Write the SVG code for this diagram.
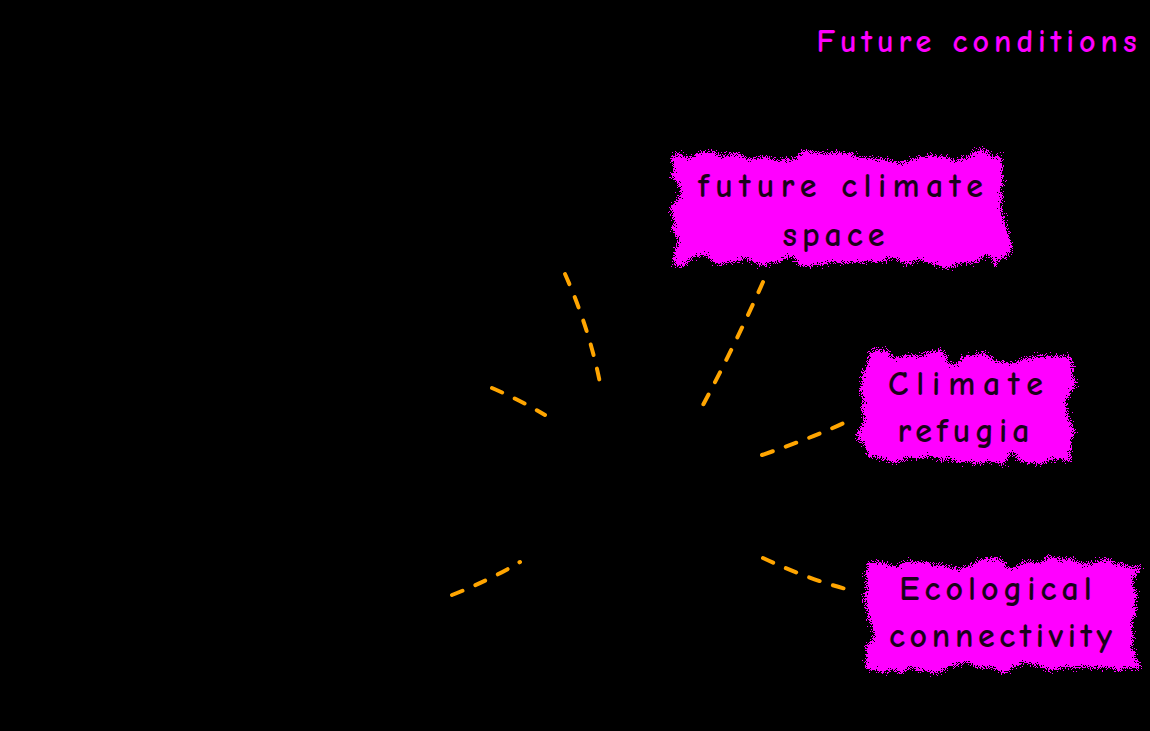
<svg xmlns="http://www.w3.org/2000/svg" width="1150" height="731" viewBox="0 0 1150 731">
<style>
.hand{font-family:"Comic Neue","DejaVu Sans","Noto Sans",sans-serif;font-size:34px;font-weight:bold;letter-spacing:5px;text-anchor:middle}
.dark{fill:#000000;font-size:31px;letter-spacing:3px}
.ink{fill:#1a001a}
.title{fill:#ff00ff;font-size:32px;letter-spacing:5px}
.box{fill:#ff00ff;filter:url(#spray)}
.conn{fill:none;stroke:#ffa500;stroke-width:4;stroke-dasharray:11 14;stroke-linecap:round}
</style>
<defs>
<filter id="spray" x="-15%" y="-30%" width="130%" height="160%">
<feTurbulence type="fractalNoise" baseFrequency="0.035" numOctaves="2" seed="7" result="w"/>
<feDisplacementMap in="SourceGraphic" in2="w" scale="26" xChannelSelector="R" yChannelSelector="G" result="wob"/>
<feTurbulence type="fractalNoise" baseFrequency="1.2" numOctaves="1" seed="2" result="n"/>
<feDisplacementMap in="wob" in2="n" scale="16" xChannelSelector="R" yChannelSelector="G"/>
</filter>
</defs>
<rect x="0" y="0" width="1150" height="731" fill="#000000"/>
<g id="title"><text class="hand title" x="979" y="52" textLength="325" lengthAdjust="spacing">Future conditions</text></g>
<g id="connectors">
<path class="conn" d="M565,274 Q590,330 601,388"/>
<path class="conn" d="M763,282 Q735,345 703,405"/>
<path class="conn" d="M492,388 Q520,400 545,415"/>
<path class="conn" d="M762,455 Q820,435 850,420"/>
<path class="conn" d="M452,595 Q490,580 520,562"/>
<path class="conn" d="M763,558 Q810,580 850,590"/>
</g>
<g id="node-range-shifting">
<text class="hand dark" x="450" y="196" textLength="215" lengthAdjust="spacing">Ongoing range</text>
<text class="hand dark" x="450" y="241" textLength="135" lengthAdjust="spacing">shifting</text>
</g>
<g id="node-habitat-types">
<text class="hand dark" x="218" y="381" textLength="355" lengthAdjust="spacing">Diverse habitat types</text>
<text class="hand dark" x="219" y="426" textLength="428" lengthAdjust="spacing">and ecological processes</text>
</g>
<g id="node-biodiversity">
<text class="hand dark" x="176" y="587" textLength="290" lengthAdjust="spacing">Current patterns</text>
<text class="hand dark" x="218" y="633" textLength="322" lengthAdjust="spacing">of biodiversity</text>
</g>
<g id="node-future-climate-space">
<rect class="box" x="674" y="156" width="328" height="106"/>
<text class="hand ink" x="843" y="197" textLength="290" lengthAdjust="spacing">future climate</text>
<text class="hand ink" x="836" y="246">space</text>
</g>
<g id="node-climate-refugia">
<rect class="box" x="862" y="356" width="208" height="104"/>
<text class="hand ink" x="968" y="395" textLength="160" lengthAdjust="spacing">Climate</text>
<text class="hand ink" x="966" y="442">refugia</text>
</g>
<g id="node-ecological-connectivity">
<rect class="box" x="868" y="563" width="270" height="105"/>
<text class="hand ink" x="998" y="600">Ecological</text>
<text class="hand ink" x="1003" y="647" textLength="228" lengthAdjust="spacing">connectivity</text>
</g>
</svg>
